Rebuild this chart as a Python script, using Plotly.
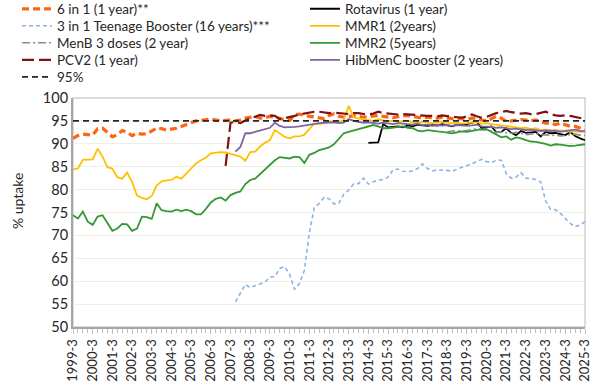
import plotly.graph_objects as go

N = 105
QUARTERS = [f"{1999 + (i + 2) // 4}-{(i + 2) % 4 + 1}" for i in range(N)]
TICK_POS = [i for i, q in enumerate(QUARTERS) if q.endswith("-3")]
TICK_LABELS = [QUARTERS[i] for i in TICK_POS]

SIX_IN_ONE = [
    91.2, 91.8, 92.1, 92.0,  91.9, 93.3, 93.4, 92.5,  91.5, 92.0, 92.9, 92.5,
    91.8, 92.3, 92.1, 92.2,  92.8, 93.4, 93.3, 93.0,  93.2, 93.4, 93.8, 94.2,
    94.5, 95.0, 95.1, 95.3,  95.4, 95.2, 95.0, 95.1,  95.2, 95.0, 95.2, 95.6,
    95.8, 96.0, 95.6, 95.7,  96.0, 95.8, 95.6, 95.4,  95.1, 96.3, 96.5, 96.2,
    96.0, 95.8, 95.6, 95.5,  96.2, 96.5, 96.0, 95.8,  96.0, 96.1, 96.0, 95.8,
    95.9, 96.0, 96.2, 96.0,  95.8, 95.7, 95.9, 96.0,  96.2, 96.0, 95.8, 95.6,
    95.8, 95.7, 95.6, 95.8,  95.6, 95.5, 95.6, 95.5,  95.3, 95.6, 95.6, 95.2,
    95.0, 95.5, 96.0, 95.6,  94.9, 95.0, 95.2, 95.3,  95.2, 95.0, 95.2, 94.8,
    94.5, 94.5, 94.2, 94.5,  94.1, 93.8, 93.8, 93.4,  93.1,
]

TEEN_BOOSTER = [None] * 33 + [
    55.5, 57.5, 59.3,
    58.6, 59.0, 59.3, 59.8,  60.9, 61.0, 62.8, 63.2,  61.5, 58.2, 59.5, 62.4,
    70.5, 76.0, 77.0, 78.3,  78.0, 76.9, 77.0, 79.0,  79.9, 81.2, 81.3, 82.5,
    81.2, 81.7, 82.0, 82.2,  82.7, 84.3, 84.5, 84.0,  83.9, 84.1, 84.6, 85.6,
    84.6, 84.1, 84.3, 84.3,  84.2, 84.0, 84.5, 84.9,  85.2, 85.6, 86.1, 86.6,
    86.1, 85.9, 86.4, 86.4,  83.5, 82.5, 82.7, 83.7,  82.5, 82.4, 82.2, 81.7,
    77.5, 75.7, 75.6, 74.8,  73.7, 72.6, 71.9, 72.3,  73.0,
]

MENB = [None] * 76 + [
    92.6, 92.8, 92.9, 92.7,  92.9, 93.1, 93.3, 93.0,  93.0, 92.8, 92.5, 92.6,
    92.4, 92.3, 92.5, 92.2,  92.0, 92.1, 92.3, 91.9,  92.0, 91.8, 91.9, 91.7,
    91.8, 92.0, 92.1, 91.9,  91.8,
]

PCV2 = [None] * 31 + [
    85.2,
    94.6, 94.8, 94.5, 95.1,  95.5, 95.8, 96.3, 96.1,  96.2, 96.1, 95.4, 95.6,
    95.8, 96.1, 96.4, 96.6,  96.8, 97.0, 97.0, 96.9,  96.7, 96.8, 96.7, 96.6,
    96.5, 96.7, 96.7, 96.5,  96.4, 96.6, 97.0, 96.7,  96.6, 96.5, 96.4, 96.5,
    96.4, 96.4, 96.3, 96.2,  96.1, 96.1, 96.0, 96.2,  96.0, 95.9, 95.8, 95.7,
    96.0, 96.4, 96.0, 95.7,  95.9, 96.3, 96.7, 96.9,  97.2, 96.9, 96.7, 96.6,
    96.7, 96.5, 96.5, 96.8,  97.0, 96.5, 96.2, 96.1,  96.2, 96.1, 95.9, 95.7,
    95.4,
]

ROTAVIRUS = [None] * 60 + [
    90.2, 90.2, 90.3, 94.3,  93.6, 93.7, 93.8, 93.6,  94.0, 93.8, 94.2, 94.0,
    93.9, 94.1, 94.0, 94.3,  94.0, 93.8, 94.2, 94.1,  94.3, 94.6, 94.9, 93.4,
    93.6, 93.8, 92.5, 92.6,  93.4, 92.4, 91.9, 92.8,  92.4, 92.5, 92.6, 91.6,
    92.6, 92.3, 92.4, 92.1,  91.9, 92.6, 91.7, 91.2,  90.8,
]

MMR1 = [
    84.4, 84.6, 86.5, 86.6,  86.6, 88.9, 87.2, 84.9,  84.6, 82.7, 82.4, 83.7,
    81.7, 78.7, 78.2, 77.9,  78.6, 80.9, 81.8, 82.0,  82.1, 82.8, 82.4, 83.5,
    84.7, 85.7, 86.4, 87.0,  87.9, 88.1, 88.2, 88.1,  87.8, 87.5, 87.2, 86.3,
    88.2, 88.3, 89.4, 90.2,  90.8, 93.0, 92.3, 91.5,  91.2, 91.6, 91.6, 92.0,
    93.2, 94.4, 94.3, 94.5,  94.8, 95.0, 94.7, 95.2,  98.3, 95.8, 95.5, 95.3,
    95.2, 95.0, 95.4, 95.1,  94.9, 95.0, 94.8, 94.9,  95.0, 94.7, 94.6, 94.8,
    94.7, 94.5, 94.6, 94.8,  94.6, 94.5, 94.6, 94.4,  94.5, 94.7, 94.8, 94.4,
    94.5, 94.3, 94.1, 94.0,  93.9, 93.7, 93.5, 93.4,  93.5, 93.2, 93.4, 93.0,
    93.1, 92.9, 92.8, 92.9,  92.8, 92.6, 92.7, 92.6,  92.7,
]

MMR2 = [
    74.4, 73.7, 75.2, 73.0,  72.3, 74.1, 74.4, 72.6,  71.0, 71.5, 72.5, 72.4,
    71.0, 71.5, 74.1, 74.0,  73.6, 77.0, 75.5, 75.3,  75.2, 75.6, 75.3, 75.6,
    75.3, 74.6, 74.6, 75.8,  77.2, 78.0, 78.3, 77.6,  78.8, 79.3, 79.6, 81.2,
    82.1, 82.4, 83.4, 84.5,  85.6, 86.4, 87.1, 86.9,  86.8, 87.2, 87.1, 85.8,
    87.6, 88.0, 88.6, 88.9,  89.2, 89.9, 91.0, 92.3,  92.6, 92.9, 93.2, 93.4,
    93.8, 94.1, 93.8, 93.4,  93.4, 93.5, 93.6, 93.8,  93.5, 93.4, 92.9, 92.7,
    93.0, 92.8, 92.7, 92.6,  92.5, 92.3, 92.5, 92.7,  92.6, 92.8, 93.0, 93.2,
    93.2, 92.6, 91.9, 91.4,  91.6, 90.9, 91.4, 91.2,  90.8, 90.5, 90.4, 90.2,
    90.0, 89.6, 89.9, 89.8,  89.7, 89.5, 89.6, 89.8,  89.9,
]

HIBMENC = [None] * 33 + [
    88.3, 89.3, 92.3,
    92.3, 92.6, 92.9, 93.2,  93.5, 94.6, 93.9, 93.6,  93.6, 93.7, 93.8, 94.0,
    94.2, 94.3, 94.5, 94.6,  94.6, 94.7, 94.5, 94.6,  95.4, 95.0, 94.8, 94.6,
    94.7, 94.5, 94.4, 94.6,  94.5, 94.3, 94.5, 94.4,  94.3, 94.2, 94.4, 94.1,
    94.2, 94.0, 94.1, 94.0,  94.1, 93.9, 94.1, 94.0,  93.9, 94.0, 94.2, 93.8,
    93.8, 93.7, 93.5, 93.6,  93.4, 93.2, 93.3, 93.1,  93.0, 93.1, 92.9, 92.8,
    92.9, 92.8, 92.9, 92.6,  92.8, 93.0, 93.1, 92.8,  92.7,
]

TARGET = [95] * N


def fit(vals):
    vals = list(vals)[:N]
    return vals + [None] * (N - len(vals))


X = list(range(N))
FONT = "Lato"
TXT = "#262626"
W, H = 600, 392

# name, values, colour, width, dash, legend column, legend row
series = [
    ("6 in 1 (1 year)**", SIX_IN_ONE, "#FF6410", 3.2, "7px,4px", 0, 0),
    ("Rotavirus (1 year)", ROTAVIRUS, "#000000", 1.8, "solid", 1, 0),
    ("3 in 1 Teenage Booster (16 years)***", TEEN_BOOSTER, "#8DB3E2", 1.6, "4px,3px", 0, 1),
    ("MMR1 (2years)", MMR1, "#FFC000", 1.8, "solid", 1, 1),
    ("MenB 3 doses (2 year)", MENB, "#8C8C8C", 1.6, "8px,3px,2px,3px", 0, 2),
    ("MMR2 (5years)", MMR2, "#339933", 1.8, "solid", 1, 2),
    ("PCV2 (1 year)", PCV2, "#7F1212", 2.2, "12px,5px", 0, 3),
    ("HibMenC booster (2 years)", HIBMENC, "#7F63A6", 1.8, "solid", 1, 3),
    ("95%", TARGET, "#262626", 1.8, "6px,4px", 0, 4),
]

LEG_COL_X = [17, 305]
LEG_ROW_Y = [9, 26, 43, 60, 77]

fig = go.Figure()
legends = {}
for k, (name, vals, color, width, dash, col, row) in enumerate(series):
    leg = f"legend{k + 2}"
    fig.add_trace(go.Scatter(
        x=X, y=fit(vals), name=name, mode="lines",
        line=dict(color=color, width=width, dash=dash),
        legend=leg, showlegend=True, connectgaps=False, hoverinfo="skip",
        customdata=QUARTERS,
    ))
    legends[leg] = dict(
        xref="container", yref="container",
        x=LEG_COL_X[col] / W, y=1 - LEG_ROW_Y[row] / H,
        xanchor="left", yanchor="middle",
        font=dict(size=13.5, family=FONT, color=TXT),
        itemwidth=30, bgcolor="rgba(0,0,0,0)", borderwidth=0,
    )

fig.update_layout(
    width=W, height=H, showlegend=True,
    margin=dict(l=73, r=15, t=98, b=65, autoexpand=False),
    paper_bgcolor="white", plot_bgcolor="white",
    font=dict(family=FONT, color=TXT, size=12),
    xaxis=dict(
        range=[0, N - 1], tickmode="array", tickvals=TICK_POS, ticktext=TICK_LABELS,
        tickangle=-90, tickfont=dict(size=13, family=FONT, color=TXT),
        ticks="outside", ticklen=5, tickcolor="#BFBFBF", tickwidth=1,
        minor=dict(dtick=1, tick0=0, ticks="outside", ticklen=4, tickcolor="#BFBFBF",
                   tickwidth=1, showgrid=False),
        showline=True, linecolor="#A6A6A6", linewidth=2,
        showgrid=False, zeroline=False, automargin=False,
    ),
    yaxis=dict(
        range=[50, 100], dtick=5, tick0=50,
        tickfont=dict(size=14.5, family=FONT, color=TXT),
        ticks="", showline=True, linecolor="#A6A6A6", linewidth=2,
        showgrid=True, gridcolor="#F0EFE6", gridwidth=1, zeroline=False,
        automargin=False,
    ),
    annotations=[dict(
        text="% uptake", textangle=-90, showarrow=False,
        xref="paper", yref="paper", x=(17 - 73) / 512, y=0.55,
        xanchor="center", yanchor="middle",
        font=dict(size=14, family=FONT, color=TXT),
    )],
    shapes=[dict(type="rect", xref="paper", yref="paper", x0=0, y0=0, x1=1, y1=1,
                 line=dict(color="#D0D0D0", width=1.5), layer="below")],
    **legends,
)

fig.write_html("out.html", config={"displayModeBar": False},
               post_script="document.body.style.margin='0';")
